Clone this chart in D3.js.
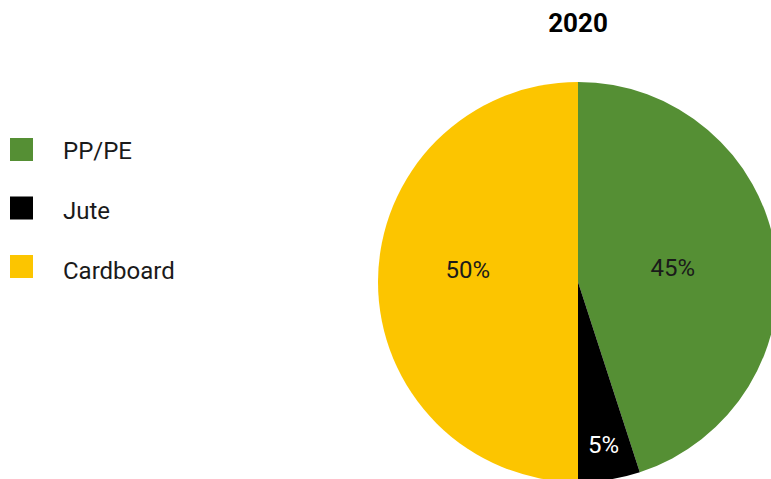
<!DOCTYPE html>
<html>
<head>
<meta charset="utf-8">
<script src="https://cdn.jsdelivr.net/npm/d3@7"></script>
<style>
  html, body { margin: 0; padding: 0; background: #fff; }
  svg { display: block; }
  text { font-family: Roboto, "Noto Sans", sans-serif; }
</style>
</head>
<body>
<script>
// Packaging material shares, 2020
const title = "2020";
const categories = ["PP/PE", "Jute", "Cardboard"];
const shares = [45, 5, 50];
const colors = ["#558f34", "#000000", "#fcc500"];
const labelColors = ["#1a1a1a", "#ffffff", "#1a1a1a"];

// Label placement: fraction of the radius, and angular nudge (degrees) per slice
const labelRadius = [0.48, 0.82, 0.555];
const labelNudge = [0, 0, 6.7];

const width = 771, height = 479;
const cx = 578, cy = 282, r = 200;

const svg = d3.select("body").append("svg")
  .attr("width", width)
  .attr("height", height);

const pie = d3.pie().sort(null).value(d => d.value);
const arcs = pie(categories.map((c, i) => ({ name: c, value: shares[i], i })));

const arc = d3.arc().innerRadius(0).outerRadius(r);

const g = svg.append("g").attr("transform", `translate(${cx},${cy})`);

g.selectAll("path.slice")
  .data(arcs)
  .join("path")
  .attr("class", "slice")
  .attr("d", arc)
  .attr("fill", d => colors[d.data.i]);

g.selectAll("text.pct")
  .data(arcs)
  .join("text")
  .attr("class", "pct")
  .attr("transform", d => {
    const k = r * labelRadius[d.data.i];
    const shift = labelNudge[d.data.i] * Math.PI / 180;
    const c = d3.arc().innerRadius(k).outerRadius(k).centroid({
      startAngle: d.startAngle + shift,
      endAngle: d.endAngle + shift
    });
    return `translate(${c[0]},${c[1]})`;
  })
  .attr("text-anchor", "middle")
  .attr("dy", "0.36em")
  .attr("font-size", 24)
  .attr("fill", d => labelColors[d.data.i])
  .text(d => d.data.value + "%");

// Title
svg.append("text")
  .attr("x", cx)
  .attr("y", 32)
  .attr("text-anchor", "middle")
  .attr("font-size", 26)
  .attr("font-weight", "bold")
  .attr("fill", "#000")
  .text(title);

// Legend
const swatchY = d3.scalePoint().domain(categories).range([149.5, 266.5]);
const labelY = d3.scalePoint().domain(categories).range([150.5, 270]);
const items = svg.append("g").selectAll("g")
  .data(categories)
  .join("g");

items.append("rect")
  .attr("x", 10)
  .attr("y", d => swatchY(d) - 11.5)
  .attr("width", 23)
  .attr("height", 23)
  .attr("fill", (d, i) => colors[i]);

items.append("text")
  .attr("x", 63)
  .attr("y", d => labelY(d))
  .attr("dy", "0.36em")
  .attr("font-size", 24)
  .attr("fill", "#1a1a1a")
  .text(d => d);
</script>
</body>
</html>
